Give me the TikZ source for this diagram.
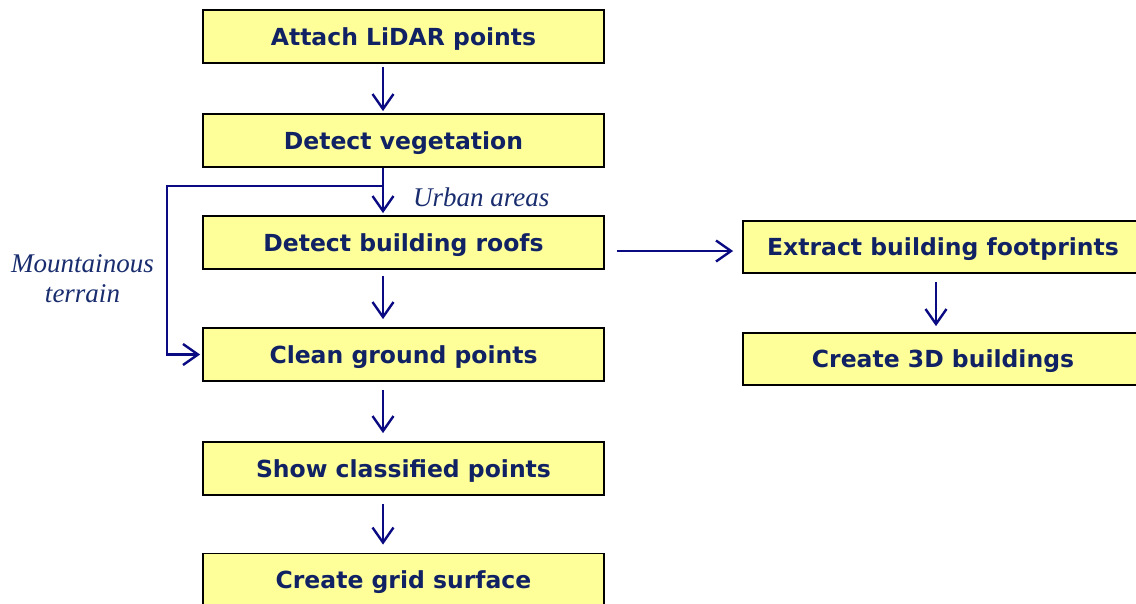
\documentclass[tikz,border=0pt]{standalone}
\usepackage{fontspec}
\setmainfont{DejaVu Sans}
\newfontfamily\lblfont{Liberation Serif}
\usetikzlibrary{arrows.meta}
\definecolor{boxfill}{RGB}{255,255,153}
\definecolor{navytxt}{RGB}{16,34,100}
\definecolor{arrcol}{RGB}{10,10,130}
\definecolor{lblcol}{RGB}{25,45,110}
\tikzset{
  stepbox/.style={draw=black, line width=1.8pt, fill=boxfill, rectangle,
    minimum width=401pt, minimum height=53pt, inner sep=0pt,
    text height=17pt, text depth=0pt,
    font=\fontsize{23.5}{28}\selectfont\bfseries, text=navytxt},
  arr/.style={draw=arrcol, line width=2.4pt, -{Straight Barb[length=15pt,width=21pt,line width=2.4pt]}},
  plainline/.style={draw=arrcol, line width=2.4pt},
  lbl/.style={font=\lblfont\itshape\fontsize{27}{30}\selectfont, text=lblcol, inner sep=0pt}
}
\begin{document}
\begin{tikzpicture}[x=1pt,y=-1pt]
\useasboundingbox (0,0) rectangle (1136,603);
\node[stepbox] (b1) at (403.5,36.5) {Attach LiDAR points};
\node[stepbox] (b2) at (403.5,140.5) {Detect vegetation};
\node[stepbox] (b3) at (403.5,242.5) {Detect building roofs};
\node[stepbox] (b4) at (403.5,354.5) {Clean ground points};
\node[stepbox] (b5) at (403.5,468.5) {Show classified points};
\node[stepbox] (b6) at (403.5,580) {Create grid surface};
\node[stepbox, minimum width=400pt, minimum height=52pt] (e1) at (943,247) {Extract building footprints};
\node[stepbox, minimum width=400pt, minimum height=52pt] (e2) at (943,359) {Create 3D buildings};
\coordinate (ax) at (383,0);
\coordinate (bx) at (936,0);
\coordinate (jn) at (383,186);
\coordinate (lc) at (167,186);
\coordinate (r0) at (617,251);
\draw[arr, shorten <=3pt, shorten >=2pt] (b1.south -| ax) -- (b2.north -| ax);
\draw[plainline] (b2.south -| ax) -- (jn);
\draw[arr, shorten >=2pt] (jn) -- (b3.north -| ax);
\draw[arr, shorten >=2pt] (jn) -- (lc) |- (b4.west);
\draw[arr, shorten <=6pt, shorten >=8pt] (b3.south -| ax) -- (b4.north -| ax);
\draw[arr, shorten <=8pt, shorten >=8pt] (b4.south -| ax) -- (b5.north -| ax);
\draw[arr, shorten <=8pt, shorten >=8pt] (b5.south -| ax) -- (b6.north -| ax);
\draw[arr, shorten >=9pt] (r0) -- (r0 -| e1.west);
\draw[arr, shorten <=8pt, shorten >=6pt] (e1.south -| bx) -- (e2.north -| bx);
\node[lbl, anchor=west] (ua) at (413,197) {Urban areas};
\node[lbl, align=center] (mt) at (82.5,279) {Mountainous\\terrain};
\end{tikzpicture}
\end{document}
